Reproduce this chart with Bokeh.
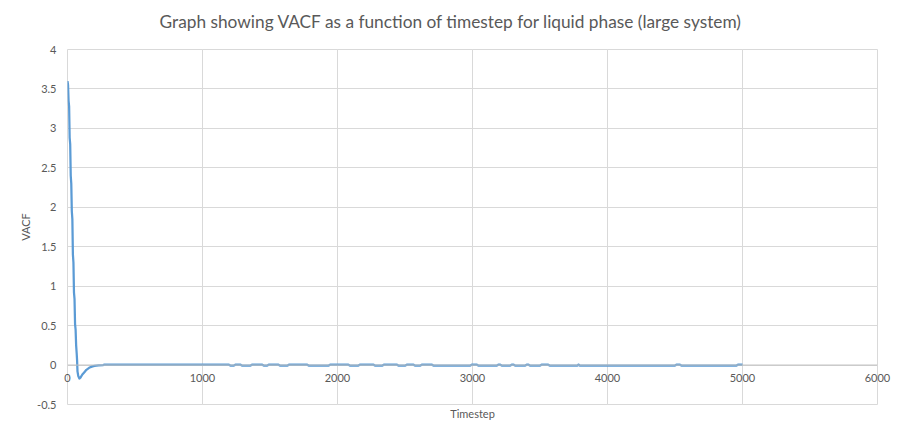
from bokeh.plotting import figure
from bokeh.models import (LinearAxis, FixedTicker, Title, Range1d, CustomJSTickFormatter,
                          ColumnDataSource, Grid, Span)
from bokeh.embed import file_html
from bokeh.resources import INLINE

# ---- data ----
head_t = [0, 4, 8, 12, 16, 20, 24, 28, 32, 36, 40, 44, 48, 52, 56, 60, 64, 68, 71,
          74, 80, 88, 96, 110, 125, 140, 160, 180, 200, 230, 265]
head_v = [3.60, 3.55, 3.35, 3.28, 2.88, 2.80, 2.40, 2.30, 1.95, 1.85, 1.40, 1.30, 0.92, 0.84,
          0.52, 0.45, 0.25, 0.15, 0.06, -0.08, -0.14, -0.17, -0.16, -0.12, -0.09, -0.06,
          -0.035, -0.02, -0.01, -0.005, 0.0]
tail_t = [270, 1196, 1206, 1233, 1243, 1282, 1292, 1356, 1366, 1443, 1453, 1480, 1490, 1563,
          1573, 1630, 1640, 1776, 1786, 1935, 1945, 2081, 2091, 2155, 2165, 2267, 2277, 2333,
          2343, 2441, 2451, 2503, 2513, 2563, 2573, 2614, 2624, 2700, 2710, 2984, 2994, 3033,
          3043, 3181, 3191, 3206, 3216, 3280, 3290, 3305, 3315, 3391, 3401, 3415, 3425, 3501,
          3511, 3561, 3571, 3778, 3783, 3788, 3793, 4500, 4510, 4537, 4547, 4956, 4966, 5000]
tail_v = [0.004, 0.004, -0.006, -0.006, 0.004, 0.004, -0.006, -0.006, 0.004, 0.004, -0.006, -0.006,
          0.004, 0.004, -0.006, -0.006, 0.004, 0.004, -0.006, -0.006, 0.004, 0.004, -0.006, -0.006,
          0.004, 0.004, -0.006, -0.006, 0.004, 0.004, -0.006, -0.006, 0.004, 0.004, -0.006, -0.006,
          0.004, 0.004, -0.006, -0.006, 0.004, 0.004, -0.006, -0.006, 0.004, 0.004, -0.006, -0.006,
          0.004, 0.004, -0.006, -0.006, 0.004, 0.004, -0.006, -0.006, 0.004, 0.004, -0.006, -0.006,
          0.004, 0.004, -0.006, -0.006, 0.004, 0.004, -0.006, -0.006, 0.004, 0.004]
timesteps = head_t + tail_t
vacf = head_v + tail_v

x_ticks = [0, 1000, 2000, 3000, 4000, 5000, 6000]
y_ticks = [-0.5, 0, 0.5, 1, 1.5, 2, 2.5, 3, 3.5, 4]

title_text = "Graph showing VACF as a function of timestep for liquid phase (large system)"
x_label = "Timestep"
y_label = "VACF"

FONT = "Lato"
GREY = "#595959"
GRID = "#D9D9D9"

p = figure(width=892, height=424, output_backend="svg", toolbar_location=None,
           x_range=Range1d(0, 6000), y_range=Range1d(-0.5, 4),
           x_axis_location=None, y_axis_location=None,
           min_border_left=67, min_border_right=15, min_border_top=49, min_border_bottom=20)
p.title = None
p.outline_line_color = GRID
p.background_fill_color = "white"
p.border_fill_color = "white"

# small empty spacer between the frame and the title
spacer = Title(text=" ", align="left", text_font=FONT, text_font_size="9px", standoff=0)
p.add_layout(spacer, "above")
t = Title(text=title_text, align="left", offset=92, text_font=FONT, text_font_size="17.3px",
          text_font_style="normal", text_color=GREY, standoff=10)
p.add_layout(t, "above")

# x axis: labels drawn up at the zero line (Excel style)
xa = LinearAxis(ticker=FixedTicker(ticks=x_ticks))
xa.axis_line_color = None
xa.major_tick_line_color = None
xa.minor_tick_line_color = None
xa.major_tick_out = 0
xa.major_label_text_font = FONT
xa.major_label_text_font_size = "11px"
xa.major_label_text_color = GREY
xa.major_label_standoff = -31
p.add_layout(xa, "below")

xt = Title(text=x_label, align="center", text_font=FONT, text_font_size="11px",
           text_font_style="normal", text_color=GREY, standoff=0)
p.add_layout(xt, "below")

ya = LinearAxis(ticker=FixedTicker(ticks=y_ticks), axis_label=y_label,
                formatter=CustomJSTickFormatter(code="return String(tick);"))
ya.axis_line_color = None
ya.major_tick_line_color = None
ya.minor_tick_line_color = None
ya.major_tick_out = 0
ya.major_label_text_font = FONT
ya.major_label_text_font_size = "11px"
ya.major_label_text_color = GREY
ya.major_label_standoff = 11
ya.axis_label_text_font = FONT
ya.axis_label_text_font_size = "11px"
ya.axis_label_text_font_style = "normal"
ya.axis_label_text_color = GREY
ya.axis_label_standoff = 2
p.add_layout(ya, "left")

p.add_layout(Grid(dimension=0, ticker=FixedTicker(ticks=x_ticks), grid_line_color=GRID))
p.add_layout(Grid(dimension=1, ticker=FixedTicker(ticks=y_ticks), grid_line_color=GRID))
p.add_layout(Span(location=0, dimension="width", line_color="#BFBFBF", line_width=1))

src = ColumnDataSource(data=dict(t=timesteps, v=vacf))
p.line("t", "v", source=src, line_color="#5B9BD5", line_width=2.25, line_join="round")

open("out.html", "w").write(file_html(p, INLINE))
